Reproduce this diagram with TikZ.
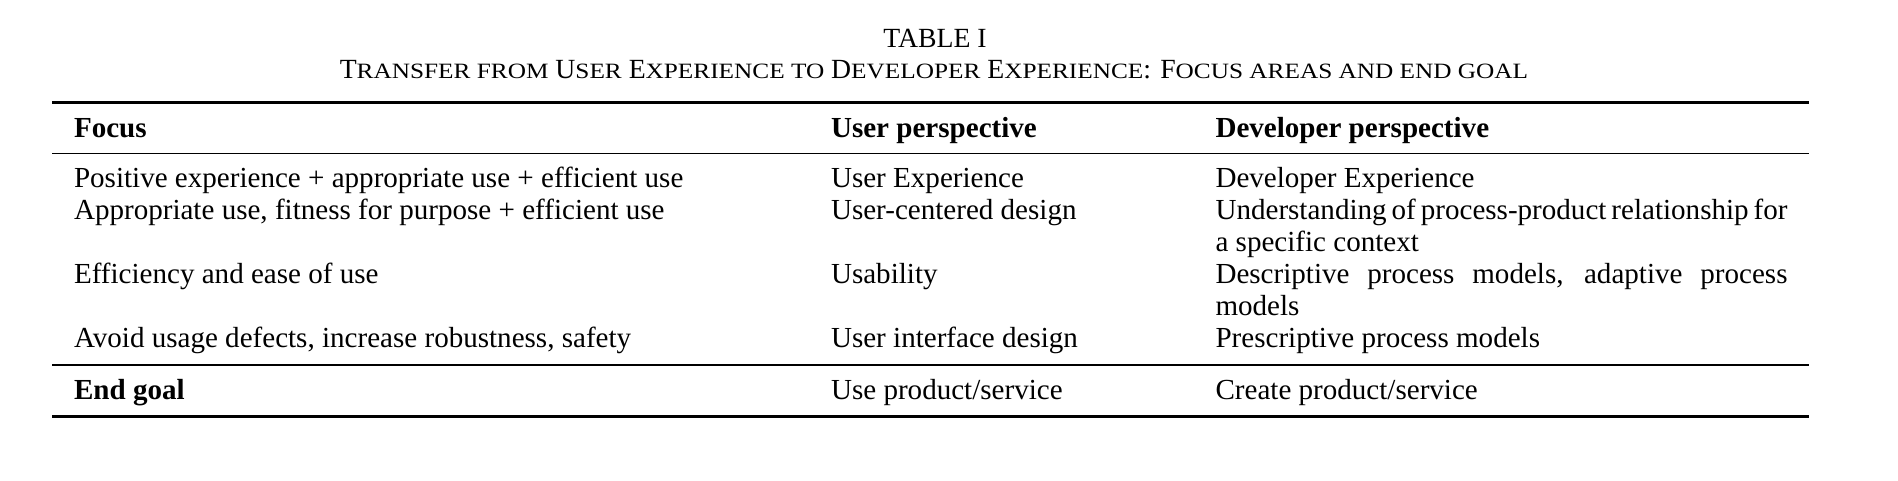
\documentclass[tikz,border=0pt]{standalone}
\usepackage{fontspec}
\setmainfont{Liberation Serif}
\newcommand{\scs}[1]{\scalebox{1.156}[1]{\fontsize{8.2}{9}\selectfont #1}}
\newcommand{\bodyfont}{\fontsize{10.9}{12}\selectfont}
\tikzset{
  cell/.style={anchor=base west, inner sep=0pt, font=\bodyfont},
  hcell/.style={cell, font=\bodyfont\bfseries},
  wcell/.style={cell, text width=214.5pt, align=justify},
  ttl/.style={anchor=base, inner sep=0pt, font=\fontsize{10.4}{12}\selectfont},
  heavy/.style={line width=0.95pt},
  light/.style={line width=0.55pt},
}
\begin{document}
\begin{tikzpicture}[x=0.375pt,y=-0.375pt]
\useasboundingbox (0,0) rectangle (1898,480);
% title
\node[ttl] (t1) at (935,47.5) {TABLE I};
\node[ttl] (t2) at (934,78) {T\scs{RANSFER FROM} U\scs{SER} E\scs{XPERIENCE TO} D\scs{EVELOPER} E\scs{XPERIENCE}: F\scs{OCUS AREAS AND END GOAL}};
% rules
\coordinate (r1a) at (52,102.7); \coordinate (r1b) at (1809,102.7);
\coordinate (r2a) at (52,153.3); \coordinate (r2b) at (1809,153.3);
\coordinate (r3a) at (52,365);   \coordinate (r3b) at (1809,365);
\coordinate (r4a) at (52,416.7); \coordinate (r4b) at (1809,416.7);
\draw[heavy] (r1a) -- (r1b);
\draw[light] (r2a) -- (r2b);
\draw[light] (r3a) -- (r3b);
\draw[heavy] (r4a) -- (r4b);
% header
\node[hcell] (h1) at (73.5,137.5) {Focus};
\node[hcell] (h2) at (830.5,137.5) {User perspective};
\node[hcell] (h3) at (1215,137.5) {Developer perspective};
% row 1
\node[cell] (a1) at (73.5,187) {Positive experience + appropriate use + efficient use};
\node[cell] (b1) at (830.5,187) {User Experience};
\node[wcell] (c1) at (1215,187) {Developer Experience};
% row 2
\node[cell] (a2) at (73.5,219) {Appropriate use, fitness for purpose + efficient use};
\node[cell] (b2) at (830.5,219) {User-centered design};
\node[wcell] (c2) at (1215,219) {Understanding of process-product relationship for\linebreak a specific context};
% row 3
\node[cell] (a3) at (73.5,283) {Efficiency and ease of use};
\node[cell] (b3) at (830.5,283) {Usability};
\node[wcell] (c3) at (1215,283) {Descriptive process models, adaptive process\linebreak models};
% row 4
\node[cell] (a4) at (73.5,347) {Avoid usage defects, increase robustness, safety};
\node[cell] (b4) at (830.5,347) {User interface design};
\node[wcell] (c4) at (1215,347) {Prescriptive process models};
% end goal
\node[hcell] (a5) at (73.5,399.5) {End goal};
\node[cell] (b5) at (830.5,399.5) {Use product/service};
\node[wcell] (c5) at (1215,399.5) {Create product/service};
\end{tikzpicture}
\end{document}
